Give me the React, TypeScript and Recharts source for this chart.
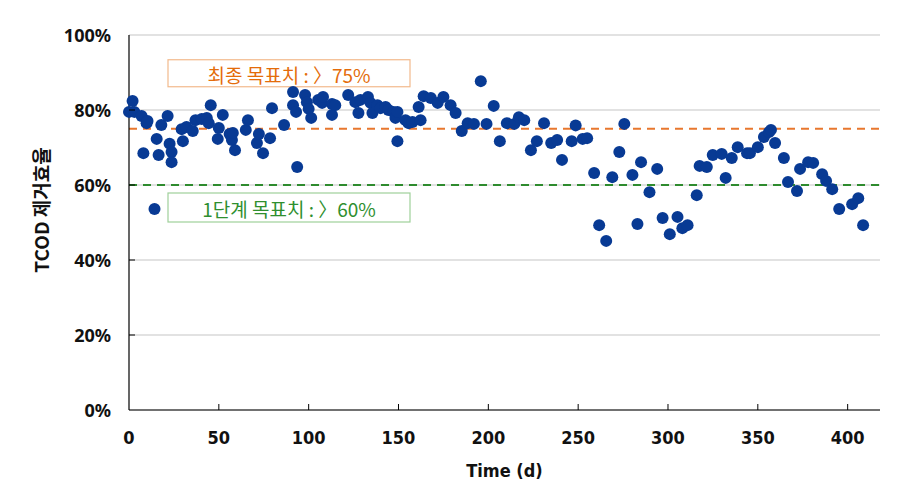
import {
  ScatterChart,
  Scatter,
  XAxis,
  YAxis,
  CartesianGrid,
  ReferenceLine,
} from "recharts";

const days = [
  0, 2, 3, 7, 8, 9.8, 10.3, 14.2, 15.4, 16.5, 18, 21.5, 22.6, 23.7, 23.7, 29.3, 30, 32, 35.5, 37,
  40.5, 43.3, 44.4, 45.5, 49.4, 50, 52.2, 56, 57.3, 57.8, 59, 65, 66.2, 71.2, 72.3, 74.6, 78.5,
  79.6, 86.3, 91.3, 91.3, 93, 93.6, 98, 99, 100, 101.4, 105.3, 107.5, 108, 113, 113, 114.8, 122,
  126, 127.7, 128.8, 133, 134.4, 135.5, 138.3, 140, 142.8, 144.4, 147.2, 148.3, 149.4, 149.4,
  153.9, 155.6, 157.8, 161.2, 162.3, 164, 168, 171.8, 175, 179, 181.8, 185.2, 188.5, 192, 195.8,
  199, 203, 206.4, 210.3, 214.5, 217, 220, 223.7, 227, 231, 235, 238.3, 241, 246.4, 248.6, 252.5,
  255, 258.9, 261.7, 265.6, 269, 272.9, 275.7, 280.2, 283, 285, 289.7, 294, 297, 301, 305.3, 308,
  310.9, 316, 317.6, 321.6, 324.9, 329.9, 332.1, 335.5, 338.8, 344, 345.6, 350, 353.4, 356.2,
  357.3, 359.6, 364.5, 366.8, 371.8, 373.5, 378, 380.8, 385.8, 388, 391.4, 395.3, 402.5, 405.9,
  408.6,
];

const tcodRemoval = [
  79.5, 82.4, 79.5, 78.4, 68.5, 76.5, 77.1, 53.6, 72.3, 68, 76, 78.4, 71, 68.8, 66.1, 74.9, 71.7,
  75.5, 74.4, 77.3, 77.6, 77.9, 76.5, 81.3, 72.3, 75.2, 78.7, 73.6, 72, 73.9, 69.3, 74.7, 77.3,
  71.2, 73.6, 68.5, 72.5, 80.5, 76, 84.8, 81.3, 79.5, 64.8, 84, 82.1, 80.3, 77.9, 82.7, 81.9, 83.5,
  81.6, 78.7, 81.3, 84, 82.1, 79.2, 82.7, 83.5, 81.9, 79.2, 81.3, 80.5, 80.8, 80, 79.5, 77.9, 79.5,
  71.7, 77.3, 76.5, 76.8, 80.8, 77.3, 83.7, 83.2, 81.9, 83.5, 81.3, 79.2, 74.4, 76.5, 76.3, 87.7,
  76.3, 81.1, 71.7, 76.5, 76.3, 78.1, 77.3, 69.3, 71.7, 76.5, 71.2, 72, 66.7, 71.7, 75.9, 72.3,
  72.5, 63.2, 49.3, 45.1, 62.1, 68.8, 76.3, 62.7, 49.6, 66.1, 58.1, 64.3, 51.2, 46.9, 51.5, 48.5,
  49.3, 57.3, 65.1, 64.8, 68, 68.3, 61.9, 67.2, 70.1, 68.5, 68.5, 70.1, 72.8, 74.1, 74.7, 71.2,
  67.2, 60.8, 58.4, 64.3, 66.1, 65.9, 62.9, 61.1, 58.9, 53.6, 54.9, 56.5, 49.3,
];

const xTicks = [0, 50, 100, 150, 200, 250, 300, 350, 400];
const yTicks = [0, 20, 40, 60, 80, 100];

const finalTarget = 75;
const stageTarget = 60;
const finalTargetText = "최종 목표치 : 〉75%";
const stageTargetText = "1단계 목표치 : 〉60%";

const points = days.map((d, i) => ({ day: d, value: tcodRemoval[i] }));

const tickFont = "'Liberation Sans Narrow', 'DejaVu Sans Condensed', 'Liberation Sans', sans-serif";
const yTickFont = "'Noto Sans', 'Liberation Sans', sans-serif";
const krFont = "'Noto Sans CJK KR', 'Noto Sans', sans-serif";

const X_GAP = 27;
const Y_GAP = 18;

const XTick = (props: any) => {
  const { x, y, payload } = props;
  const axisY = y - X_GAP;
  return (
    <g>
      {payload.value !== 0 && (
        <line x1={x} x2={x} y1={axisY} y2={axisY - 6} stroke="#000" strokeWidth={1} />
      )}
      <text
        x={x}
        y={y}
        textAnchor="middle"
        dominantBaseline="central"
        fontFamily={tickFont}
        fontWeight="bold"
        fontSize={18}
        fill="#111"
      >
        {payload.value}
      </text>
    </g>
  );
};

const YTick = (props: any) => {
  const { x, y, payload } = props;
  const axisX = x + Y_GAP;
  return (
    <g>
      {payload.value !== 0 && payload.value !== 100 && (
        <line x1={axisX} x2={axisX + 6} y1={y} y2={y} stroke="#000" strokeWidth={1} />
      )}
      <text
        x={x}
        y={y}
        textAnchor="end"
        dominantBaseline="central"
        fontFamily={yTickFont}
        fontWeight="bold"
        fontSize={18}
        fill="#111"
      >
        {payload.value}%
      </text>
    </g>
  );
};

const TargetBox = (props: any) => {
  const { viewBox, text, color, border, top, h } = props;
  const bx = viewBox.x + 39;
  const by = viewBox.y + top;
  const bw = 242;
  return (
    <g>
      <rect x={bx} y={by} width={bw} height={h} fill="#fff" stroke={border} strokeWidth={1.2} />
      <text
        x={bx + bw / 2}
        y={by + h / 2 + 1}
        textAnchor="middle"
        dominantBaseline="central"
        fontFamily={krFont}
        fontSize={19}
        fill={color}
      >
        {text}
      </text>
    </g>
  );
};

const XTitle = (props: any) => {
  const { viewBox } = props;
  return (
    <text
      x={viewBox.x + viewBox.width / 2}
      y={470}
      textAnchor="middle"
      dominantBaseline="central"
      fontFamily={tickFont}
      fontWeight="bold"
      fontSize={18}
      fill="#111"
    >
      Time (d)
    </text>
  );
};

const YTitle = () => (
  <text
    x={40}
    y={210}
    transform="rotate(-90 40 210)"
    textAnchor="middle"
    dominantBaseline="central"
    fontFamily={krFont}
    fontWeight="bold"
    fontSize={19}
    fill="#111"
  >
    TCOD 제거효율
  </text>
);

const Dot = (props: any) => <circle cx={props.cx} cy={props.cy} r={6} fill="#083a94" />;

export default function App() {
  return (
    <div style={{ position: "absolute", left: 0, top: 0, width: 909, height: 503, background: "#fff" }}>
      <ScatterChart width={909} height={503} margin={{ top: 35, right: 29, bottom: 0, left: 20 }}>
        <CartesianGrid vertical={false} stroke="#d9d9d9" strokeWidth={1.5} />
        <XAxis
          type="number"
          dataKey="day"
          domain={[0, 418]}
          ticks={xTicks}
          height={93}
          tickSize={0}
          tickMargin={X_GAP}
          tick={<XTick />}
          axisLine={{ stroke: "#000", strokeWidth: 1.2 }}
          label={<XTitle />}
        />
        <XAxis
          xAxisId="top"
          orientation="top"
          type="number"
          domain={[0, 418]}
          height={0}
          tick={false}
          tickLine={false}
          axisLine={{ stroke: "#000", strokeWidth: 1 }}
        />
        <YAxis
          type="number"
          dataKey="value"
          domain={[0, 100]}
          ticks={yTicks}
          width={109}
          tickSize={0}
          tickMargin={Y_GAP}
          tick={<YTick />}
          axisLine={{ stroke: "#000", strokeWidth: 1.2 }}
          label={<YTitle />}
        />
        <YAxis
          yAxisId="right"
          orientation="right"
          type="number"
          domain={[0, 100]}
          width={0}
          tick={false}
          tickLine={false}
          axisLine={{ stroke: "#000", strokeWidth: 1.5 }}
        />
        <ReferenceLine
          y={finalTarget}
          stroke="#e8772e"
          strokeWidth={2}
          strokeDasharray="8 6"
          label={
            <TargetBox text={finalTargetText} color="#e46c0a" border="#f2b98c" top={-69} h={27} />
          }
        />
        <ReferenceLine
          y={stageTarget}
          stroke="#2e8b2e"
          strokeWidth={2}
          strokeDasharray="8 6"
          label={
            <TargetBox text={stageTargetText} color="#2f8f2f" border="#9fd09a" top={8} h={29} />
          }
        />
        <Scatter data={points} isAnimationActive={false} shape={<Dot />} />
      </ScatterChart>
    </div>
  );
}
